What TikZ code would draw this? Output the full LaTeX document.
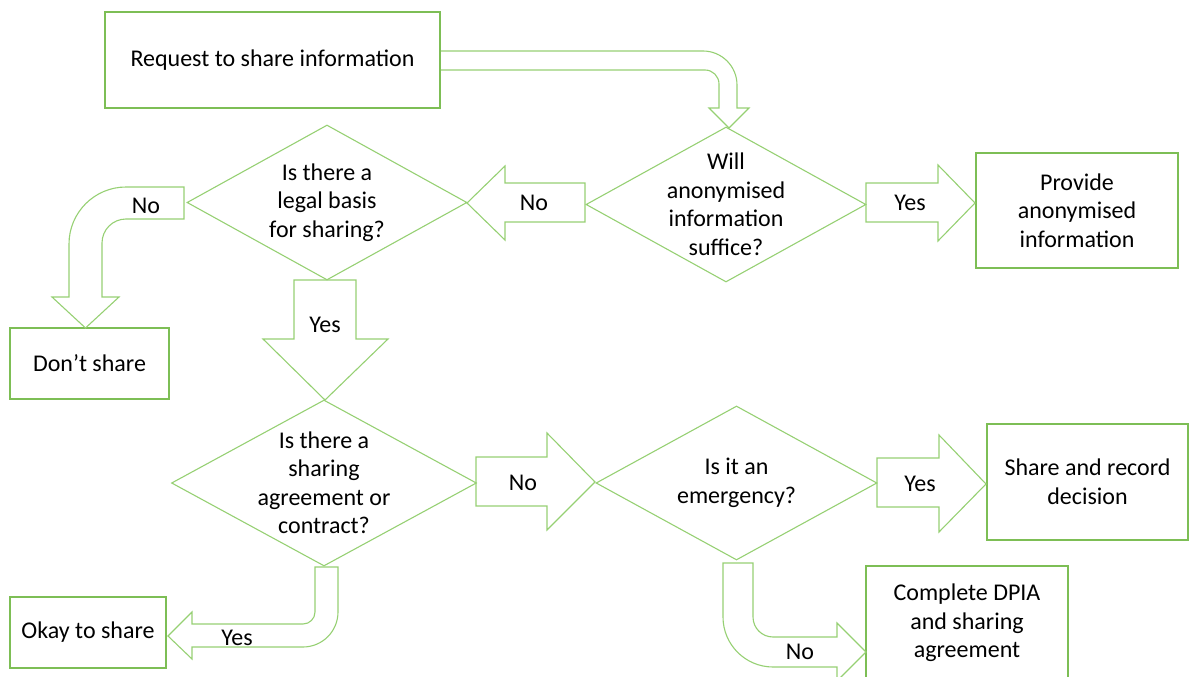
\documentclass[tikz,border=0pt]{standalone}
\usepackage{fontspec}
\setmainfont{Carlito}
\usetikzlibrary{shapes.geometric}

\definecolor{boxgreen}{RGB}{125,190,85}
\definecolor{arrowgreen}{RGB}{150,208,115}

\tikzset{
  txt/.style={font=\fontsize{24}{28.5}\selectfont, align=center, inner sep=0pt},
  box/.style={txt, draw=boxgreen, line width=1.3pt},
  diam/.style={diamond, draw=arrowgreen, line width=1.1pt, inner sep=0pt},
  blockarrow/.style={draw=arrowgreen, line width=1.1pt, line join=miter},
  lbl/.style={txt}
}

\begin{document}
\begin{tikzpicture}[x=1pt,y=-1pt]
\useasboundingbox (0,0) rectangle (1195,677);

% the boxes
\node[box, minimum width=335pt, minimum height=96pt] (request) at (272.5,60) {Request to share information};
\node[box, minimum width=202pt, minimum height=115pt] (provide) at (1077,210.5) {Provide\\anonymised\\information};
\node[box, minimum width=159pt, minimum height=71pt] (dont) at (89.5,363.5) {Don't share};
\node[box, minimum width=201pt, minimum height=116pt] (share) at (1087.5,482) {Share and record\\decision};
\node[box, minimum width=156pt, minimum height=71pt] (okay) at (88,632.5) {Okay to share};
\node[box, minimum width=202pt, minimum height=114pt] (dpia) at (967,623) {Complete DPIA\\and sharing\\agreement};

% the decisions
\node[diam, minimum width=280pt, minimum height=155pt,
  label={[txt]center:Will\\anonymised\\information\\suffice?}] (anon) at (726,204.5) {};
\node[diam, minimum width=280pt, minimum height=155pt,
  label={[txt]center:Is there a\\legal basis\\for sharing?}] (legal) at (327,202.5) {};
\node[diam, minimum width=305pt, minimum height=166pt,
  label={[txt]center:Is there a\\sharing\\agreement or\\contract?}] (agree) at (324,483) {};
\node[diam, minimum width=281pt, minimum height=154pt,
  label={[txt]center:Is it an\\emergency?}] (emerg) at (736.5,483) {};

% the straight arrows
\draw[blockarrow] (585,183) -- (505,183) -- (505,166) -- (467,203) -- (505,240) -- (505,222) -- (585,222) -- cycle;
\draw[blockarrow] (866,183) -- (938,183) -- (938,165) -- (975,203) -- (938,241) -- (938,222) -- (866,222) -- cycle;
\draw[blockarrow] (294,280) -- (356,280) -- (356,339) -- (388,339) -- (325,400) -- (263,339) -- (294,339) -- cycle;
\draw[blockarrow] (476,457) -- (547,457) -- (547,433) -- (595,482) -- (547,530) -- (547,506) -- (476,506) -- cycle;
\draw[blockarrow] (877,458) -- (939,458) -- (939,435) -- (986,484) -- (939,532) -- (939,507) -- (877,507) -- cycle;

% the bent arrows
\draw[blockarrow] (441,51) -- (703,51) arc[start angle=-90,end angle=0,radius=34] -- (737,108) -- (749,108)
  -- (729,128) -- (709,108) -- (719,108) -- (719,84) arc[start angle=0,end angle=-90,radius=14] -- (441,70);
\draw[blockarrow] (184,187) -- (126,187) arc[start angle=-90,end angle=-180,radius=57] -- (69,297) -- (52,297)
  -- (85.5,328) -- (119,297) -- (102,297) -- (102,243) arc[start angle=180,end angle=270,radius=24] -- (184,219) -- cycle;
\draw[blockarrow] (315,567) -- (338,567) -- (338,612) arc[start angle=0,end angle=90,radius=35] -- (192,647) -- (192,659)
  -- (168,636) -- (192,612) -- (192,624) -- (303,624) arc[start angle=90,end angle=0,radius=12] -- cycle;
\draw[blockarrow] (723,563) -- (723,617) arc[start angle=180,end angle=90,radius=50] -- (837,667) -- (837,681)
  -- (866,652) -- (837,623) -- (837,637) -- (773,637) arc[start angle=90,end angle=180,radius=20] -- (753,563) -- cycle;

% labels
\node[lbl] (nolegal) at (146,206) {No};
\node[lbl] (noanon) at (534,203) {No};
\node[lbl] (yesanon) at (910,203) {Yes};
\node[lbl] (yeslegal) at (325,325) {Yes};
\node[lbl] (noagree) at (523,483) {No};
\node[lbl] (yesemerg) at (920,484) {Yes};
\node[lbl] (yesagree) at (237,638) {Yes};
\node[lbl] (noemerg) at (800,652) {No};

\end{tikzpicture}
\end{document}
